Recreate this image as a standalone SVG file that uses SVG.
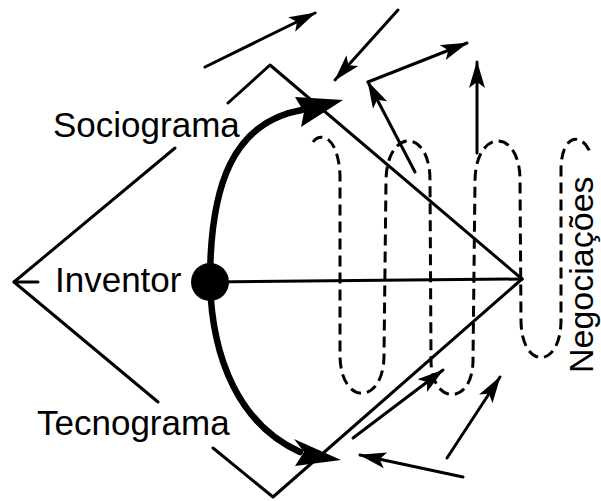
<svg xmlns="http://www.w3.org/2000/svg" width="601" height="501" viewBox="0 0 601 501">
<style>
.t{font-family:"Liberation Sans",Arial,Helvetica,sans-serif;font-size:35px;fill:#000}
.ln{fill:none;stroke:#000;stroke-width:3;stroke-linecap:round;stroke-linejoin:round}
.thick{fill:none;stroke:#000;stroke-width:6.5;stroke-linecap:round}
.dash{fill:none;stroke:#000;stroke-width:3;stroke-dasharray:11 6}
.ar{marker-end:url(#ah)}
</style>
<defs>
<marker id="ah" markerUnits="userSpaceOnUse" markerWidth="30" markerHeight="20" refX="26" refY="9" orient="auto">
<path d="M0,1 L27,9 L0,17 L6,9 z" fill="#000"/>
</marker>
</defs>
<rect width="601" height="501" fill="#fff"/>
<g id="connectors">
<path class="ln" d="M175,148 L14,282 L158,402"/>
<path class="ln" d="M14,282 L38,282"/>
<path class="ln" d="M228,103 L270,65 L522,279"/>
<path class="ln" d="M213,448 L273,497 L522,279"/>
<path class="ln" d="M210,282 L522,279"/>
<path class="thick" d="M210,282 C210,185 233,122 302,110"/>
<polygon points="343,100 295,97 304,112 301,127" fill="#000"/>
<path class="thick" d="M210,282 C212,360 240,425 300,452"/>
<polygon points="341,460 294,439 304,452 295,466" fill="#000"/>
<path class="dash" d="M313,142 C320,132 338,135 340,175 L340,355 C340,406 384,406 384,355 L386,180 C387,128 430,128 430,180 L431,360 C431,406 473,406 473,360 L475,180 C476,128 520,128 520,180 L521,320 C521,370 561,370 561,320 L561,170 C561,132 584,132 591,155"/>
<path class="ln ar" d="M205,67 L315,13"/>
<path class="ln ar" d="M398,10 L335,80"/>
<path class="ln ar" d="M415,172 L368,82"/>
<path class="ln ar" d="M368,82 L467,43"/>
<path class="ln ar" d="M477,153 L477,62"/>
<path class="ln ar" d="M447,458 L500,377"/>
<path class="ln ar" d="M463,477 L360,455"/>
<path class="ln ar" d="M353,438 L443,370"/>
</g>
<g id="inventor">
<circle cx="210" cy="282" r="19" fill="#000"/>
<text class="t" x="55" y="292">Inventor</text>
</g>
<g id="sociograma">
<text class="t" x="53" y="137">Sociograma</text>
</g>
<g id="tecnograma">
<text class="t" x="37" y="435">Tecnograma</text>
</g>
<g id="negociacoes">
<text class="t" style="font-size:34px" transform="translate(593,373) rotate(-90)">Negociações</text>
</g>
</svg>
